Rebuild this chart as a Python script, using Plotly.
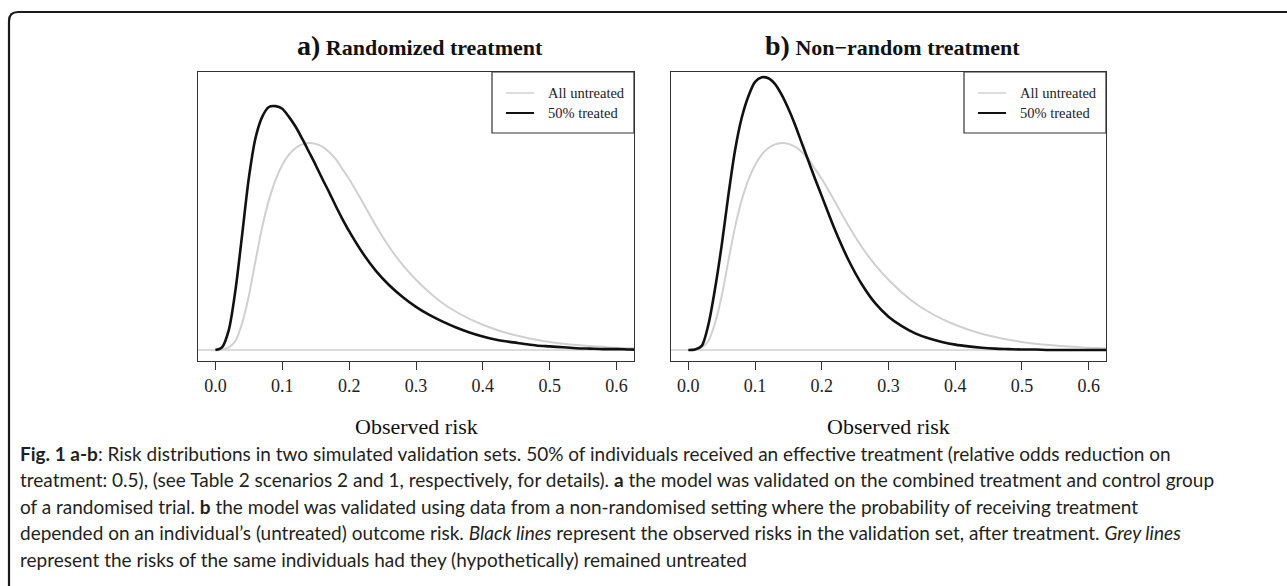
import plotly.graph_objects as go

W, H = 1287, 586

# ---- data (density in arbitrary units) ----
risk_grid = [0.00, 0.01, 0.02, 0.03, 0.04, 0.05, 0.06, 0.07, 0.08, 0.09, 0.10, 0.11, 0.12, 0.13,
             0.14, 0.15, 0.16, 0.17, 0.18, 0.19, 0.20, 0.22, 0.24, 0.26, 0.28, 0.30, 0.32, 0.34,
             0.36, 0.38, 0.40, 0.42, 0.44, 0.46, 0.48, 0.50, 0.52, 0.54, 0.56, 0.58, 0.60, 0.62,
             0.64]

untreated_a = [0.00, 0.01, 0.06, 0.20, 0.60, 1.20, 1.98, 2.73, 3.33, 3.78, 4.11, 4.34, 4.49, 4.57,
               4.60, 4.58, 4.52, 4.40, 4.24, 4.02, 3.80, 3.29, 2.76, 2.29, 1.89, 1.56, 1.28, 1.04,
               0.85, 0.69, 0.56, 0.45, 0.36, 0.29, 0.23, 0.18, 0.14, 0.11, 0.09, 0.07, 0.05, 0.04,
               0.03]
treated_a = [0.00, 0.06, 0.44, 1.33, 2.56, 3.82, 4.71, 5.18, 5.40, 5.42, 5.36, 5.18, 4.96, 4.69,
             4.40, 4.11, 3.80, 3.51, 3.20, 2.91, 2.64, 2.16, 1.76, 1.44, 1.18, 0.96, 0.78, 0.63,
             0.50, 0.39, 0.30, 0.23, 0.18, 0.14, 0.10, 0.08, 0.06, 0.04, 0.03, 0.02, 0.02, 0.01,
             0.01]
untreated_b = [0.00, 0.01, 0.06, 0.20, 0.60, 1.20, 1.98, 2.73, 3.33, 3.78, 4.11, 4.34, 4.49, 4.57,
               4.60, 4.58, 4.52, 4.40, 4.24, 4.02, 3.80, 3.29, 2.76, 2.29, 1.89, 1.56, 1.28, 1.04,
               0.85, 0.69, 0.56, 0.45, 0.36, 0.29, 0.23, 0.18, 0.14, 0.11, 0.09, 0.07, 0.05, 0.04,
               0.03]
treated_b = [0.00, 0.01, 0.09, 0.56, 1.36, 2.33, 3.44, 4.44, 5.16, 5.64, 5.96, 6.06, 6.04, 5.91,
             5.67, 5.36, 5.00, 4.60, 4.20, 3.80, 3.42, 2.66, 2.00, 1.46, 1.04, 0.74, 0.53, 0.37,
             0.26, 0.18, 0.12, 0.08, 0.05, 0.03, 0.02, 0.01, 0.01, 0.00, 0.00, 0.00, 0.00, 0.00,
             0.00]

x_ticks = [0.0, 0.1, 0.2, 0.3, 0.4, 0.5, 0.6]
x_tick_labels = ["0.0", "0.1", "0.2", "0.3", "0.4", "0.5", "0.6"]
legend_labels = ["All untreated", "50% treated"]
panel_letters = ["a)", "b)"]
panel_titles = ["Randomized treatment", "Non\u2212random treatment"]
x_title = "Observed risk"

caption_lines = [
    "<b>Fig. 1 a-b</b>: Risk distributions in two simulated validation sets. 50% of individuals received an effective treatment (relative odds reduction on",
    "treatment: 0.5), (see Table 2 scenarios 2 and 1, respectively, for details). <b>a</b> the model was validated on the combined treatment and control group",
    "of a randomised trial. <b>b</b> the model was validated using data from a non-randomised setting where the probability of receiving treatment",
    "depended on an individual\u2019s (untreated) outcome risk. <i>Black lines</i> represent the observed risks in the validation set, after treatment. <i>Grey lines</i>",
    "represent the risks of the same individuals had they (hypothetically) remained untreated",
]

GREY = "#d0d0d0"
BLACK = "#111111"
FRAME = "#333333"
SERIF = "Liberation Serif, Times New Roman, serif"
SANS = "Lato, Open Sans, sans-serif"


def px(x):
    return x / W


def py(y):
    return 1 - y / H


panels = [(198, 634), (671, 1106)]
top_px, bot_px = 72, 361
y_range = [-11 / 45, 278 / 45]
x_range = [-0.026, 0.626]

fig = go.Figure()

series = [(untreated_a, treated_a), (untreated_b, treated_b)]
for i, (unt, trt) in enumerate(series):
    xa = "x" if i == 0 else "x2"
    ya = "y" if i == 0 else "y2"
    fig.add_trace(go.Scatter(x=risk_grid, y=unt, mode="lines", xaxis=xa, yaxis=ya,
                             line=dict(color=GREY, width=2, shape="spline", smoothing=0.8),
                             showlegend=False, hoverinfo="skip"))
    fig.add_trace(go.Scatter(x=risk_grid, y=trt, mode="lines", xaxis=xa, yaxis=ya,
                             line=dict(color=BLACK, width=2.6, shape="spline", smoothing=0.8),
                             showlegend=False, hoverinfo="skip"))

axis_common = dict(range=x_range, showgrid=False, zeroline=False, showline=True, mirror=True,
                   linecolor=FRAME, linewidth=1.2, ticks="outside", ticklen=8, tickwidth=1,
                   tickcolor=FRAME, tickvals=x_ticks, ticktext=x_tick_labels,
                   tickfont=dict(family=SERIF, size=18, color="#222"), fixedrange=True)
yaxis_common = dict(range=y_range, showgrid=False, zeroline=False, showline=True, mirror=True,
                    linecolor=FRAME, linewidth=1.2, showticklabels=False, ticks="",
                    fixedrange=True)

layout = dict(width=W, height=H, margin=dict(l=0, r=0, t=0, b=0),
              paper_bgcolor="white", plot_bgcolor="white", showlegend=False)
for i, (l, r) in enumerate(panels):
    suf = "" if i == 0 else "2"
    layout["xaxis" + suf] = dict(axis_common, domain=[px(l), px(r)], anchor="y" + suf)
    layout["yaxis" + suf] = dict(yaxis_common, domain=[py(bot_px), py(top_px)], anchor="x" + suf)
fig.update_layout(**layout)

shapes = []
annotations = []
for i, (l, r) in enumerate(panels):
    suf = "" if i == 0 else "2"
    # grey zero line across the panel
    shapes.append(dict(type="line", xref="x" + suf + " domain", yref="y" + suf,
                       x0=0, x1=1, y0=0, y1=0, line=dict(color=GREY, width=1.5), layer="below"))
    # legend box
    lx0, lx1, ly0, ly1 = r - 142, r, top_px, 133
    shapes.append(dict(type="rect", xref="paper", yref="paper", x0=px(lx0), x1=px(lx1),
                       y0=py(ly1), y1=py(ly0), line=dict(color=FRAME, width=1.2),
                       fillcolor="white"))
    for k, (lab, col, wd) in enumerate(zip(legend_labels, [GREY, BLACK], [1.5, 2])):
        yy = 93 + 20 * k
        shapes.append(dict(type="line", xref="paper", yref="paper", x0=px(lx0 + 14),
                           x1=px(lx0 + 42), y0=py(yy), y1=py(yy), line=dict(color=col, width=wd)))
        annotations.append(dict(x=px(lx0 + 54), y=py(yy), xref="paper", yref="paper",
                                text=lab, showarrow=False, xanchor="left", yanchor="middle",
                                font=dict(family=SERIF, size=14.5, color="#222")))
    cx = (l + r) / 2
    annotations.append(dict(x=px(cx + 4), y=py(45), xref="paper", yref="paper",
                            text="<b><span style='font-size:28px'>" + panel_letters[i] + "</span> "
                                 + panel_titles[i] + "</b>",
                            showarrow=False, xanchor="center", yanchor="middle",
                            font=dict(family=SERIF, size=22, color="#111")))
    annotations.append(dict(x=px(cx), y=py(426), xref="paper", yref="paper", text=x_title,
                            showarrow=False, xanchor="center", yanchor="middle",
                            font=dict(family=SERIF, size=22, color="#111")))

for k, line in enumerate(caption_lines):
    annotations.append(dict(x=px(18), y=py(453 + 26.5 * k), xref="paper", yref="paper",
                            text=line, showarrow=False, xanchor="left", yanchor="middle",
                            font=dict(family=SANS, size=19, color="#231f20")))

# outer frame (top and left edges with a rounded corner)
r_c = 9
x_l, y_t = 9, 12
path = (f"M {px(x_l)},{py(H + 2)} L {px(x_l)},{py(y_t + r_c)} "
        f"Q {px(x_l)},{py(y_t)} {px(x_l + r_c)},{py(y_t)} L {px(W + 2)},{py(y_t)}")
shapes.append(dict(type="path", xref="paper", yref="paper", path=path,
                   line=dict(color="#1a1a1a", width=2.2)))

fig.update_layout(shapes=shapes, annotations=annotations)
fig.write_html("out.html")
